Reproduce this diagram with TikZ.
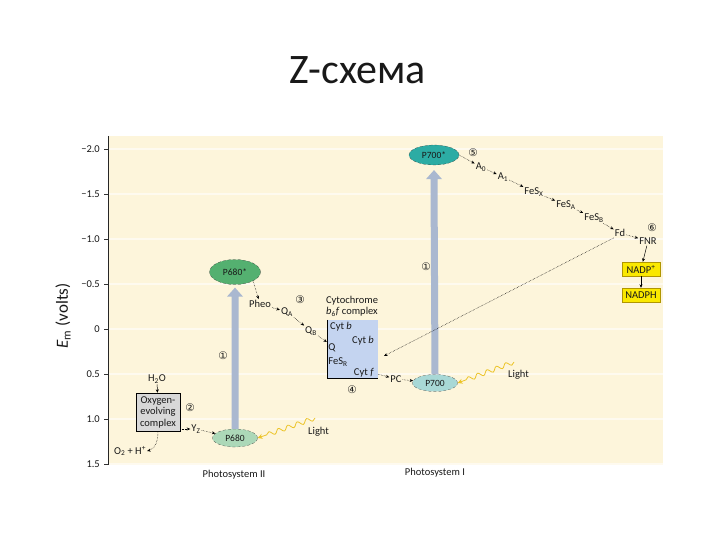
\documentclass[tikz,border=0pt]{standalone}
\usepackage{fontspec}
\setmainfont{Carlito}
\newfontfamily\circfont{DejaVu Sans}
\usetikzlibrary{arrows.meta,decorations.pathmorphing,shapes.geometric}

\definecolor{panel}{RGB}{253,245,219}
\definecolor{psiistar}{RGB}{84,176,112}
\definecolor{psiiground}{RGB}{172,216,184}
\definecolor{psistar}{RGB}{44,172,164}
\definecolor{psiground}{RGB}{168,216,214}
\definecolor{uparrow}{RGB}{170,184,208}
\definecolor{cytblue}{RGB}{196,212,240}
\definecolor{oecgray}{RGB}{216,216,216}
\definecolor{nadpyellow}{RGB}{250,232,0}
\definecolor{nadpedge}{RGB}{176,150,0}
\definecolor{lightwave}{RGB}{236,196,40}

\begin{document}
\begin{tikzpicture}[
    x=1pt, y=-1pt,
    every node/.style={font=\fontsize{10.5}{11.5}\selectfont, inner sep=1pt, text=black!90},
    center/.style={ellipse, draw=black!80, densely dashed, very thin, inner sep=0pt,
                   font=\fontsize{9.5}{10}\selectfont},
    elec/.style={densely dotted, line width=0.5pt, -{Stealth[length=3.5pt,width=3pt]}},
    solidarr/.style={line width=0.5pt, -{Stealth[length=3.5pt,width=3pt]}},
    wave/.style={lightwave, thick, decorate,
                 decoration={snake, amplitude=2.2pt, segment length=10pt, post length=5pt},
                 -{Stealth[length=5pt,width=5pt]}},
    num/.style={font=\circfont\fontsize{10.5}{10.5}\selectfont},
    ticklab/.style={anchor=east},
    nadpbox/.style={rectangle, fill=nadpyellow, draw=nadpedge, thin,
                    minimum width=38pt, minimum height=14pt, inner sep=0pt}
]

\useasboundingbox (0,0) rectangle (720,540);

% ================= title =================

\node (title) at (358,70) {\fontsize{42}{48}\selectfont Z-схема};

% ================= axes =================

\fill[panel] (108,136) rectangle (663,465);

\foreach \v/\t [count=\i] in {-2/−2.0, -1.5/−1.5, -1/−1.0, -0.5/−0.5, 0/0, 0.5/0.5, 1/1.0, 1.5/1.5}
{
    \draw[white!55!panel, line width=1.2pt] (109,329+90*\v) -- (663,329+90*\v);
    \draw[black!80, thin] (104,329+90*\v) -- (108,329+90*\v);
    \node[ticklab] (tick\i) at (101,329+90*\v) {\t};
}

\draw[black!85, thin] (108,136) -- (108,465);

\node[rotate=90] (ylab) at (63,316) {\fontsize{17}{20}\selectfont\textit{E}\textsubscript{m} (volts)};

% ================= Photosystem II =================

\node[center, fill=psiistar, minimum width=51pt, minimum height=25pt] (p680s) at (235,272) {P680*};
\node[center, fill=psiiground, minimum width=45pt, minimum height=18pt] (p680) at (235,438) {P680};

\coordinate (tip2) at ([yshift=-3pt]p680s.south);
\fill[uparrow] ([xshift=-3.5pt]p680.north) -- ([xshift=-3.5pt,yshift=-9pt]tip2)
    -- ([xshift=-8pt,yshift=-9pt]tip2) -- (tip2) -- ([xshift=8pt,yshift=-9pt]tip2)
    -- ([xshift=3.5pt,yshift=-9pt]tip2) -- ([xshift=3.5pt]p680.north) -- cycle;

\node[num] (n1a) at (223,356) {①};

\node[rectangle, draw=black, thin, fill=oecgray, align=center,
      minimum width=44pt, minimum height=38pt, inner sep=0pt] (oec) at (158,412)
      {Oxygen-\\evolving\\complex};
\node (h2o) at (157,379) {H\textsubscript{2}O};
\node (o2) at (130,451) {O\textsubscript{2} + H\textsuperscript{+}};
\node (yz) at (196,429) {Y\textsubscript{Z}};
\node[num] (n2) at (190,408) {②};

\draw[solidarr] (h2o) -- (oec);
\draw[elec] (oec.south) to[out=-90, in=15] (o2.east);
\draw[elec] (oec.east |- yz) -- (yz);
\draw[elec] (yz) -- (p680);

\coordinate (sun2) at (315,418);
\draw[wave] (sun2) -- (p680.east);
\node[anchor=west] (light2) at (307,432) {Light};

\node (ps2) at (234,475) {Photosystem II};

% ================= electron chain to b6f =================

\node (pheo) at (260,304) {Pheo};
\node (qa) at (287,312) {Q\textsubscript{A}};
\node (qb) at (311,331) {Q\textsubscript{B}};
\node[num] (n3) at (300,300) {③};

\draw[elec] (p680s.south east) -- (pheo);
\draw[elec] (pheo) -- (qa);
\draw[elec] (qa) -- (qb);

\node[rectangle, fill=cytblue, minimum width=51pt, minimum height=58pt, inner sep=0pt] (cyt) at (352.5,349) {};
\draw[black, thin] (cyt.north west) -- (cyt.south west) -- (cyt.south east);

\node[align=center] (cytlab) at (352,306) {Cytochrome\\\textit{b}\textsubscript{6}\textit{f} complex};
\node (cytb1) at (341,327) {Cyt \textit{b}};
\node (cytb2) at (363,341) {Cyt \textit{b}};
\node (cytq) at (332,348) {Q};
\node (fesr) at (338,362) {FeS\textsubscript{R}};
\node (cytf) at (364,373) {Cyt \textit{f}};
\node[num] (n4) at (352,390) {④};

\draw[elec] (qb) -- ([yshift=7pt]cyt.west);

% ================= Photosystem I =================

\node[center, fill=psistar, minimum width=50pt, minimum height=20pt] (p700s) at (434,155) {P700*};
\node[center, fill=psiground, minimum width=45pt, minimum height=17pt] (p700) at (435,383) {P700};

\coordinate (tip1) at ([yshift=-5pt]p700s.south);
\fill[uparrow] ([xshift=-3.5pt]p700.north) -- ([xshift=-3.5pt,yshift=-9pt]tip1)
    -- ([xshift=-8pt,yshift=-9pt]tip1) -- (tip1) -- ([xshift=8pt,yshift=-9pt]tip1)
    -- ([xshift=3.5pt,yshift=-9pt]tip1) -- ([xshift=3.5pt]p700.north) -- cycle;

\node[num] (n1b) at (426,267) {①};

\node (pc) at (396,379) {PC};
\draw[elec] ([yshift=4pt]cyt.south east) -- (pc);
\draw[elec] (pc) -- (p700);

\coordinate (sun1) at (514,362);
\draw[wave] (sun1) -- (p700.east);
\node[anchor=west] (light1) at (507,375) {Light};

\node (ps1) at (435,473) {Photosystem I};

% ================= electron chain to NADPH =================

\node[num] (n5) at (473,153) {⑤};
\node (a0) at (481,167) {A\textsubscript{0}};
\node (a1) at (503,177) {A\textsubscript{1}};
\node (fesx) at (534,192) {FeS\textsubscript{X}};
\node (fesa) at (566,205) {FeS\textsubscript{A}};
\node (fesb) at (594,218) {FeS\textsubscript{B}};
\node (fd) at (620,233) {Fd};
\node[num] (n6) at (652,228) {⑥};
\node (fnr) at (648,241) {FNR};

\node[nadpbox] (nadp) at (641,269) {NADP\textsuperscript{+}};
\node[nadpbox] (nadph) at (641,295) {NADPH};

\draw[elec] (p700s.east) -- (a0);
\draw[elec] (a0) -- (a1);
\draw[elec] (a1) -- (fesx);
\draw[elec] (fesx) -- (fesa);
\draw[elec] (fesa) -- (fesb);
\draw[elec] (fesb) -- (fd);
\draw[elec] (fd) -- (fnr);
\draw[solidarr] (fnr) -- (nadp);
\draw[solidarr] (nadp) -- (nadph);

% cyclic flow back to b6f
\coordinate (cytin) at (384,356);
\draw[elec] (fd.south west) -- (cytin);

\end{tikzpicture}
\end{document}
